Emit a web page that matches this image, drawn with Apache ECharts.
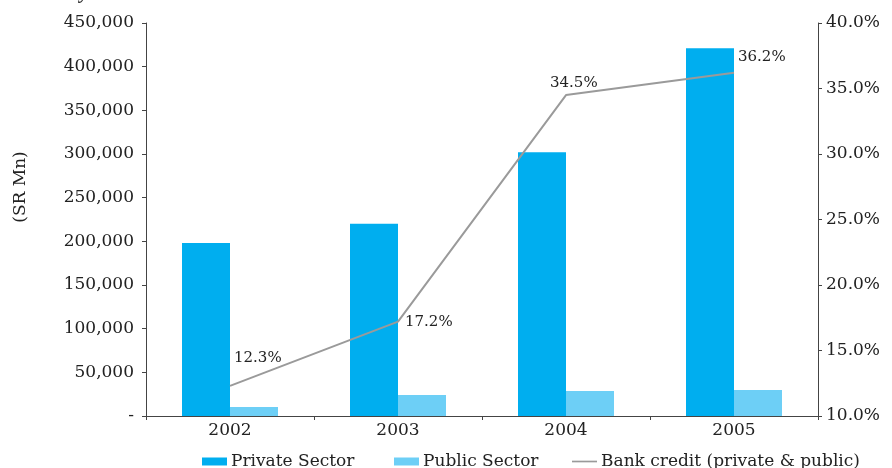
<!DOCTYPE html>
<html><head><meta charset="utf-8">
<script src="https://cdn.jsdelivr.net/npm/echarts@6/dist/echarts.min.js"></script>
<style>html,body{margin:0;padding:0;background:#fff}#c{width:892px;height:468px}</style>
</head><body><div id="c"></div>
<script>
var categories = ['2002','2003','2004','2005'];
var privateSector = [198000, 220000, 302000, 421000];
var publicSector = [10300, 24000, 28600, 29800];
var bankCredit = [12.3, 17.2, 34.5, 36.2];
var legendNames = ['Private Sector','Public Sector','Bank credit (private & public)'];
var labelOffsets = [[4,-28],[7,0],[-16,-12],[4,-16]];

var ff = '"DejaVu Serif","Liberation Serif",serif';
var chart = echarts.init(document.getElementById('c'));
function lg(name, left, icon){
  return {data:[{name:name,icon:icon}],left:left,top:453,padding:0,itemWidth:25,itemHeight:8,itemGap:0,
    textStyle:{fontFamily:ff,fontSize:17,color:'#222',padding:[0,0,0,-1]}};
}
chart.setOption({
  animation:false,
  textStyle:{fontFamily:ff},
  title:{text:'y', left:80, top:-17, padding:0, textStyle:{fontFamily:'"Liberation Serif",serif',fontSize:20,fontWeight:'bold',fontStyle:'italic',color:'#333'}},
  graphic:[{type:'text',x:21,y:187,rotation:Math.PI/2,
    style:{text:'(SR Mn)',font:'17px '+ff,fill:'#222',textAlign:'center',textVerticalAlign:'middle'}}],
  grid:{left:146,right:74,top:23,bottom:52},
  legend:[lg(legendNames[0],202,'rect'),lg(legendNames[1],394,'rect'),lg(legendNames[2],572,'path://M0,0h30v2h-30z')],
  xAxis:{type:'category',data:categories,
    axisLine:{lineStyle:{color:'#444',width:1}},
    axisTick:{show:true,length:4,lineStyle:{color:'#444'}},
    axisLabel:{fontFamily:ff,fontSize:17,color:'#222',margin:6}},
  yAxis:[{type:'value',min:0,max:450000,interval:50000,
      axisLine:{show:true,lineStyle:{color:'#444'}},axisTick:{show:true,length:4,lineStyle:{color:'#444'}},
      splitLine:{show:false},
      axisLabel:{fontFamily:ff,fontSize:17,color:'#222',margin:12,
        formatter:function(v){return v===0?'-':v.toLocaleString('en-US');}}},
    {type:'value',min:10,max:40,interval:5,position:'right',
      axisLine:{show:true,lineStyle:{color:'#444'}},axisTick:{show:true,length:4,lineStyle:{color:'#444'}},
      splitLine:{show:false},
      axisLabel:{fontFamily:ff,fontSize:17,color:'#222',margin:8,formatter:function(v){return v.toFixed(1)+'%';}}}],
  series:[
    {name:legendNames[0],type:'bar',data:privateSector,barWidth:48,barGap:'0%',itemStyle:{color:'#00AEEF'}},
    {name:legendNames[1],type:'bar',data:publicSector,barWidth:48,itemStyle:{color:'#6DCFF6'}},
    {name:legendNames[2],type:'line',yAxisIndex:1,data:bankCredit.map(function(v,i){
        return {value:v,label:{offset:labelOffsets[i]}};}),
      symbol:'circle',symbolSize:0,showSymbol:true,lineStyle:{color:'#9a9a9a',width:2},itemStyle:{color:'#9a9a9a'},
      label:{show:true,position:'right',distance:0,fontFamily:ff,fontSize:15,color:'#222',
        formatter:function(p){return p.value.toFixed(1)+'%';}}}
  ]
});
</script></body></html>
